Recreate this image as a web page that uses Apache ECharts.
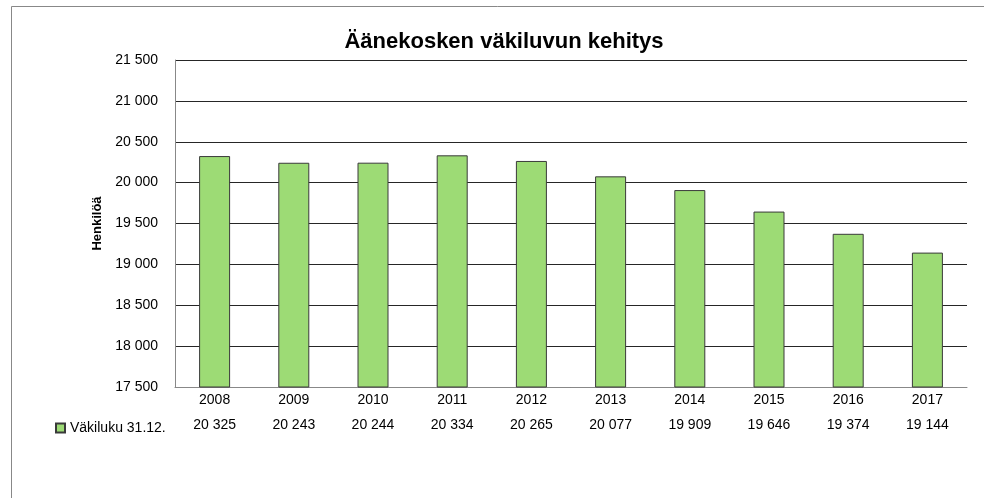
<!DOCTYPE html>
<html><head><meta charset="utf-8">
<script src="https://cdn.jsdelivr.net/npm/echarts@6/dist/echarts.min.js"></script>
<style>html,body{margin:0;padding:0;background:#fff}#c{width:984px;height:498px}</style>
</head><body><div id="c"></div>
<script>
const categories = ['2008','2009','2010','2011','2012','2013','2014','2015','2016','2017'];
const values = [20325, 20243, 20244, 20334, 20265, 20077, 19909, 19646, 19374, 19144];
const seriesName = 'Väkiluku 31.12.';
const titleText = 'Äänekosken väkiluvun kehitys';
const yName = 'Henkilöä';
const fmt = v => { const s = String(v); return s.length > 3 ? s.slice(0, s.length-3) + ' ' + s.slice(-3) : s; };
const FONT = '"Liberation Sans", sans-serif';
const chart = echarts.init(document.getElementById('c'), null, {renderer:'canvas'});
chart.setOption({
  animation:false,
  backgroundColor:'#fff',
  title:{text:titleText, left:499, textAlign:'center', top:26, textStyle:{fontFamily:FONT, fontSize:22, fontWeight:'bold', color:'#000'}},
  legend:{show:true, data:[seriesName], left:50, top:416, itemWidth:9, itemHeight:9, itemGap:5,
    icon:'rect', textStyle:{fontFamily:FONT, fontSize:14, color:'#000'}},
  grid:{left:175, right:17, top:60, bottom:111},
  xAxis:[{
    type:'category', data:categories, position:'bottom',
    axisLine:{show:true, lineStyle:{color:'#888', width:1}},
    axisTick:{show:false},
    axisLabel:{fontFamily:FONT, fontSize:14, color:'#000', margin:6}
  },{
    type:'category', data:values.map(fmt), position:'bottom', offset:25,
    axisLine:{show:false}, axisTick:{show:false},
    axisLabel:{fontFamily:FONT, fontSize:14, color:'#000', margin:6}
  }],
  yAxis:{
    type:'value', min:17500, max:21500, interval:500,
    name:yName, nameLocation:'middle', nameGap:62, nameRotate:90,
    nameTextStyle:{fontFamily:FONT, fontSize:13, fontWeight:'bold', color:'#000'},
    axisLine:{show:true, lineStyle:{color:'#888'}},
    axisTick:{show:false},
    axisLabel:{fontFamily:FONT, fontSize:14, color:'#000', margin:17, formatter:v=>fmt(v)},
    splitLine:{show:true, lineStyle:{color:'#262626', width:1}}
  },
  series:[{
    name:seriesName, type:'bar', data:values, barWidth:31,
    itemStyle:{color:'#9ddb75', borderColor:'#3a3a3a', borderWidth:1},
    z:3
  }],
  graphic:[
    {type:'line', shape:{x1:11.5, y1:6.5, x2:984, y2:6.5}, style:{stroke:'#888', lineWidth:1}},
    {type:'line', shape:{x1:11.5, y1:6.5, x2:11.5, y2:498}, style:{stroke:'#888', lineWidth:1}}
  ]
});
</script></body></html>
